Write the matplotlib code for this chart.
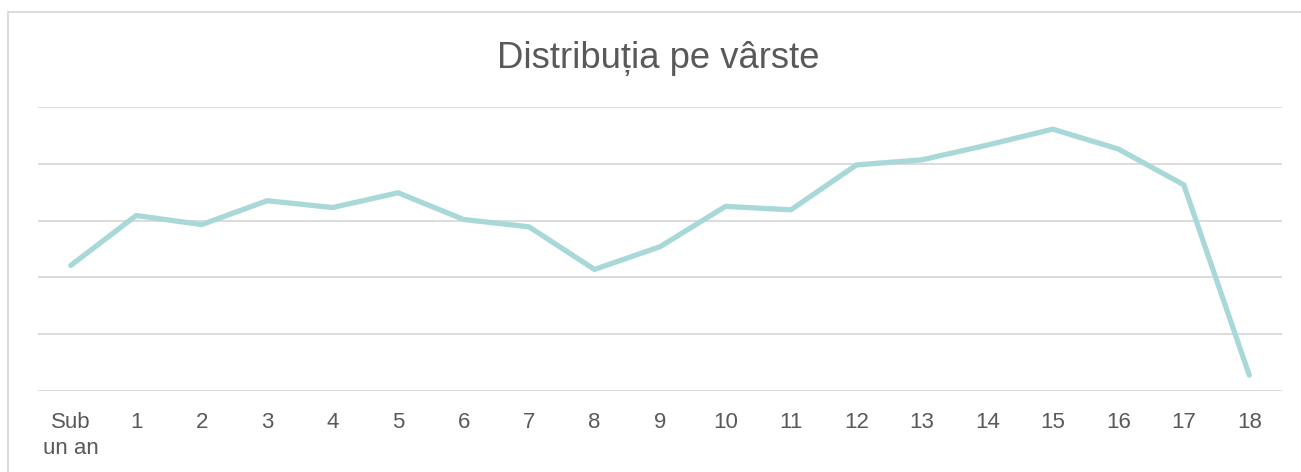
import numpy as np
import matplotlib.pyplot as plt
from matplotlib.patches import Rectangle

plt.rcParams['font.family'] = ['Liberation Sans', 'DejaVu Sans']

## age groups and values (no y labels shown)
labels = ['Sub\nun an', '1', '2', '3', '4', '5', '6', '7', '8', '9',
          '10', '11', '12', '13', '14', '15', '16', '17', '18']
values = [2.21, 3.09, 2.93, 3.35, 3.23, 3.49, 3.02, 2.89, 2.14, 2.54,
          3.25, 3.19, 3.98, 4.07, 4.33, 4.61, 4.26, 3.63, 0.28]

fig = plt.figure(figsize=(13.01, 4.72), dpi=100)
ax = fig.add_axes([38/1301, 1-391/472, (1282-38)/1301, (391-107)/472])

x = np.arange(len(labels))
ax.plot(x, values, color='#a9d8d8', linewidth=3.8, solid_capstyle='round',
        solid_joinstyle='round', zorder=3)

ax.set_xlim(-0.5, len(labels)-0.5)
ax.set_ylim(0, 5)
ax.set_yticks(np.arange(0, 6))
ax.yaxis.grid(True, color='#d9d9d9', linewidth=1.3)
ax.set_yticklabels([])
ax.tick_params(axis='y', length=0)
for s in ax.spines.values():
    s.set_visible(False)

ax.set_xticks(x)
ax.set_xticklabels(labels, fontsize=16, color='#595959', linespacing=1.32)
ax.tick_params(axis='x', length=0, pad=15)

fig.text(658/1301, 1-68/472, 'Distribuția pe vârste', ha='center', va='baseline',
         fontsize=26.3, color='#595959')

# chart border (only left and top edges are visible in the picture)
fig.patches.append(Rectangle((8/1301, -0.1), 1.2, 1-12/472+0.1,
                             transform=fig.transFigure, fill=False,
                             edgecolor='#d9d9d9', linewidth=1.3))

plt.savefig('out.png', dpi=100)
